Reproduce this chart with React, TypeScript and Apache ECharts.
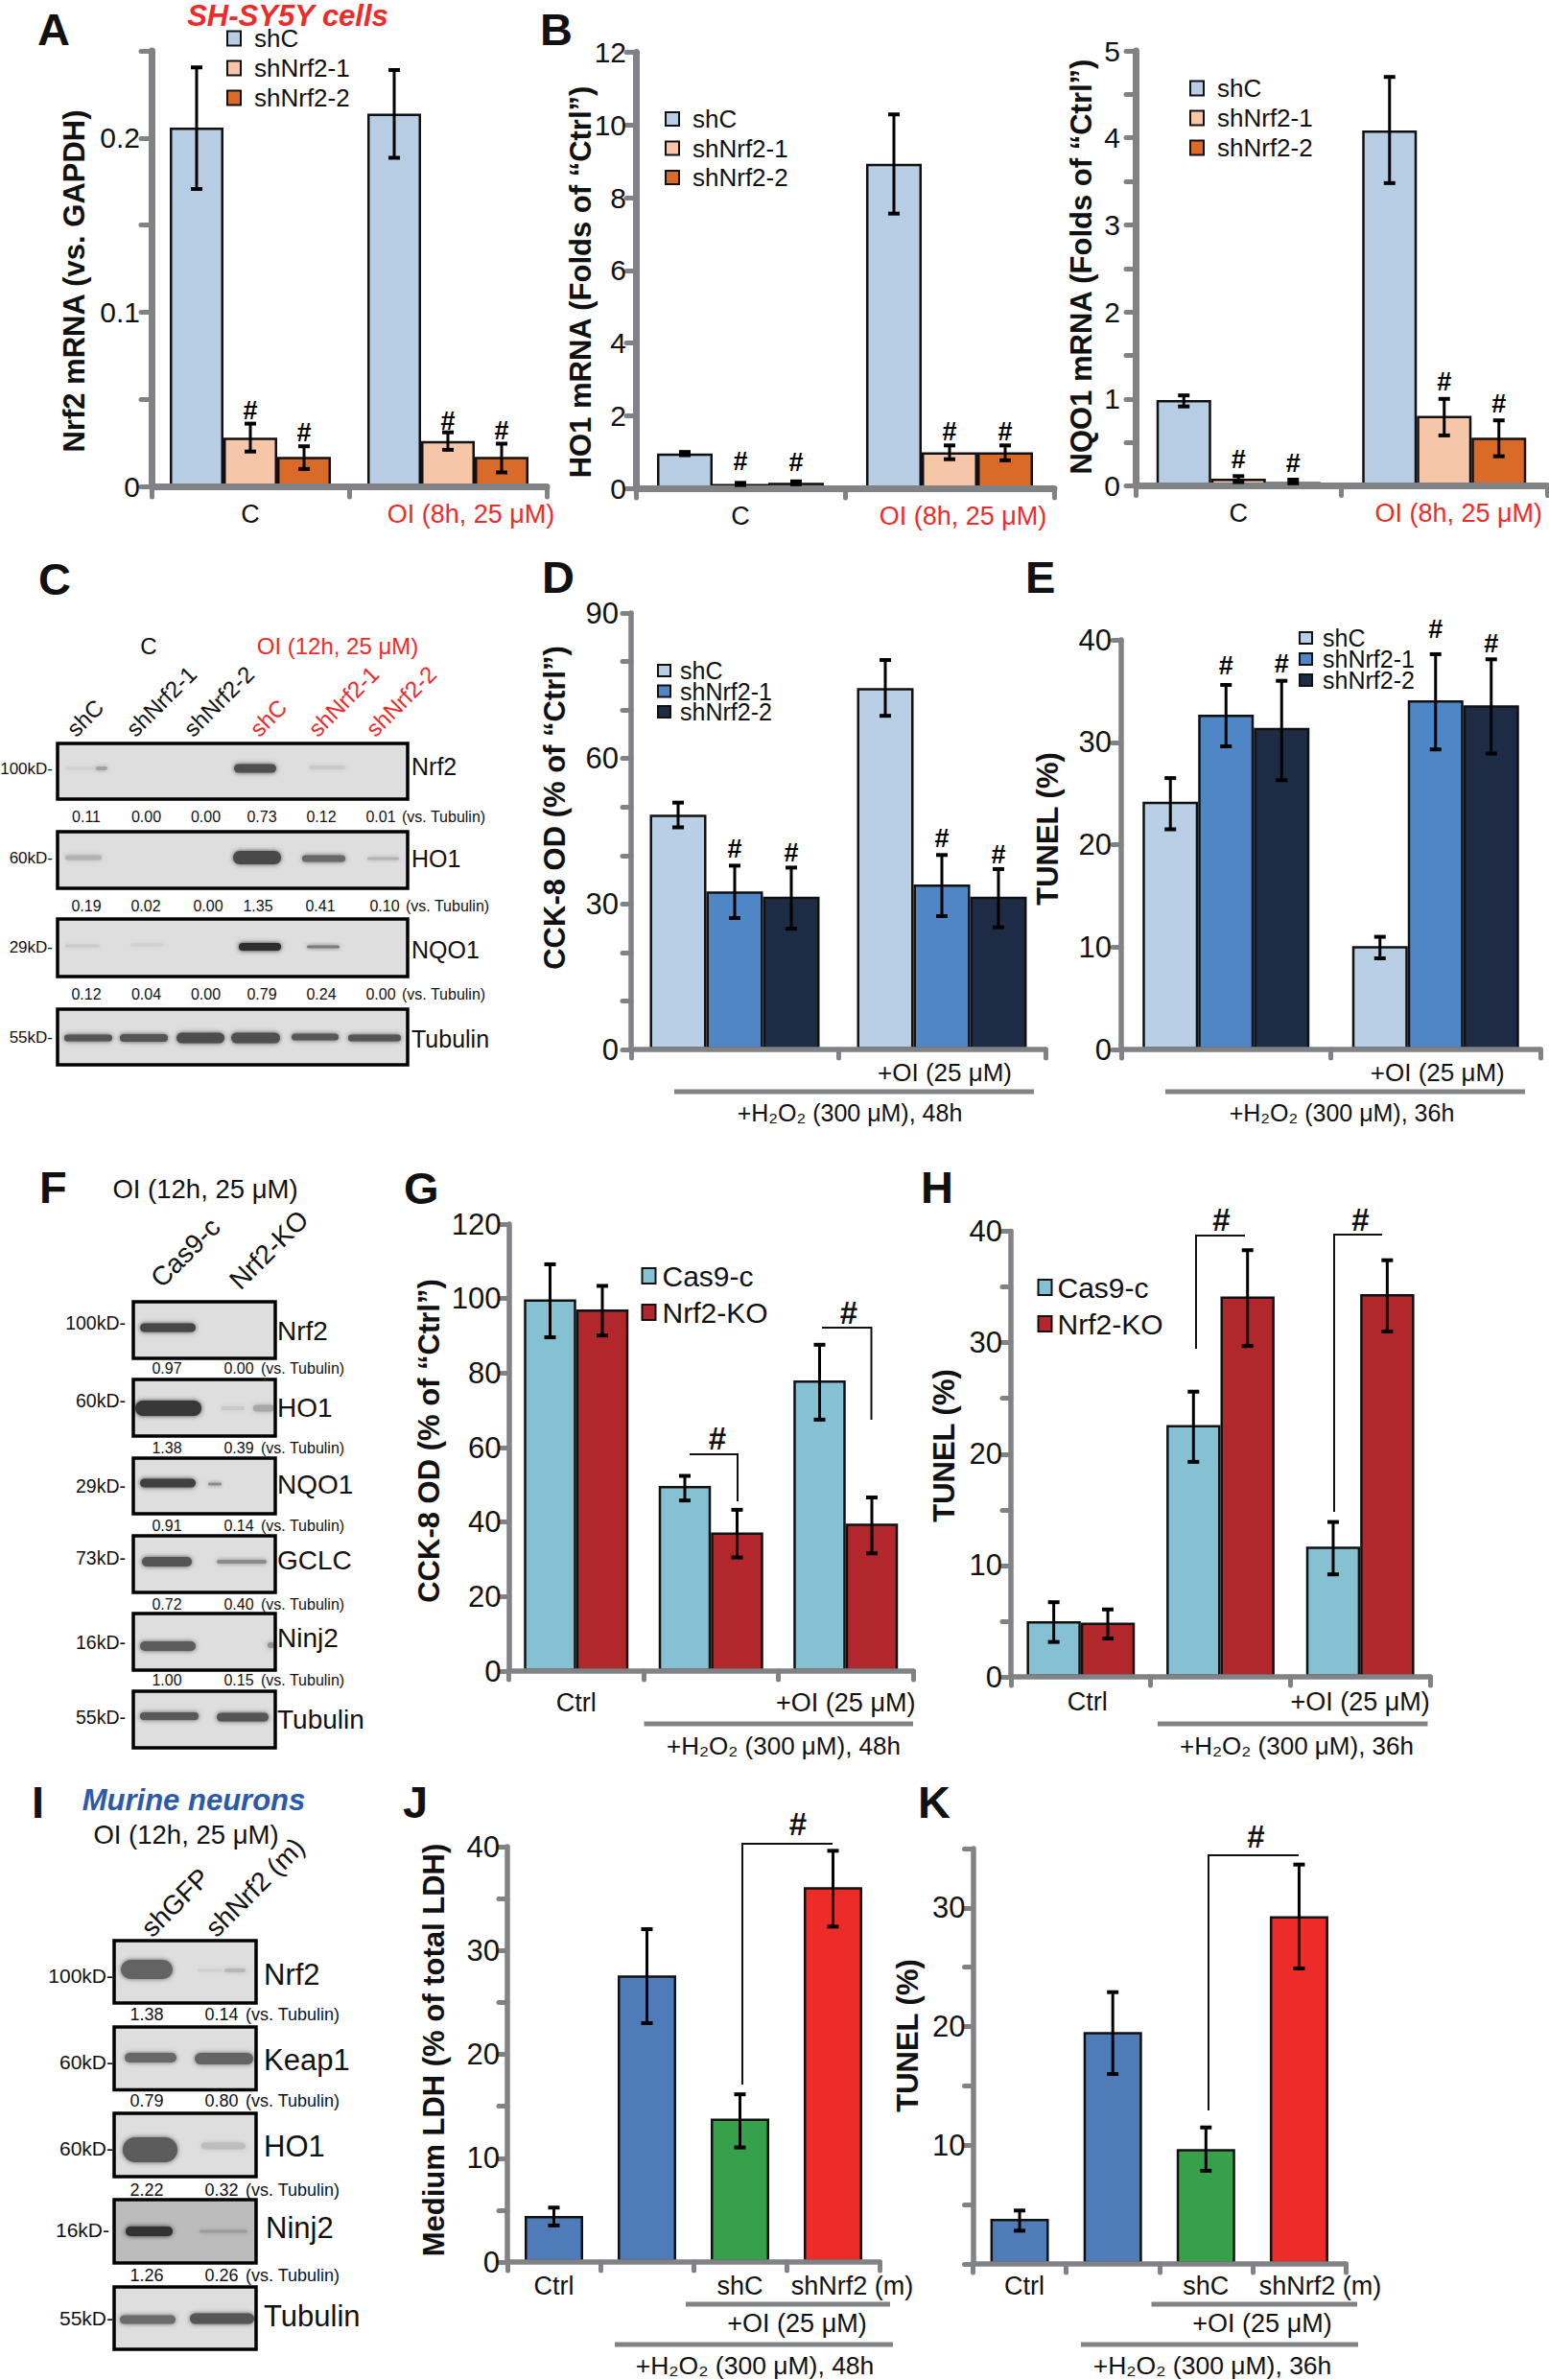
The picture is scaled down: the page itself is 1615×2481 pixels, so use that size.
import React, { useEffect, useRef } from "react";
import * as echarts from "echarts";

const FONT = "Liberation Sans";
const INK = "#111111";
const AXIS = "#808285";
const RED = "#ed2b2a";

// ---------- colours ----------
const cLight = "#b7cde4", cPeach = "#f5c7a8", cOrange = "#d96a27";
const cPale = "#b8cfe5", cMid = "#4f86c6", cNavy = "#1d2b44";
const cTeal = "#85c1d3", cCrim = "#b1272b";
const cBlue = "#4f7cb8", cGreen = "#37a04a", cRed = "#ed2c2a";

// ---------- data: categories, tick labels ----------
const catsA = ["C", "OI (8h, 25 μM)"];
const catsD = ["", "+OI (25 μM)"];
const catsG = ["Ctrl", "", "+OI (25 μM)"];
const catsJ = ["Ctrl", "", "shC", "shNrf2 (m)"];
const ticksA = ["0", "", "0.1", "", "0.2", ""];
const ticksB = ["0", "2", "4", "6", "8", "10", "12"];
const ticksN = ["0", "", "1", "", "2", "", "3", "", "4", "", "5"];
const ticksD = ["0", "", "", "30", "", "", "60", "", "", "90"];
const ticksE = ["0", "10", "20", "30", "40"];
const ticksG = ["0", "20", "40", "60", "80", "100", "120"];
const ticksH = ["0", "", "10", "", "20", "", "30", "", "40"];
const ticksJ = ["0", "", "10", "", "20", "", "30", "", "40"];
const ticksK = ["", "", "10", "", "20", "", "30", ""];

// ---------- data: bar values and [upper, lower] error ends ----------
const aShC = [0.206, 0.214], aN1 = [0.028, 0.026], aN2 = [0.017, 0.017];
const aShCErr = [[0.2405, 0.1707], [0.239, 0.1886]];
const aN1Err = [[0.036, 0.02], [0.031, 0.021]];
const aN2Err = [[0.023, 0.01], [0.0245, 0.008]];

const bShC = [0.96, 8.93], bN1 = [0.12, 0.99], bN2 = [0.15, 0.99];
const bShCErr = [[1.0, 0.91], [10.29, 7.56]];
const bN1Err = [[0.15, 0.09], [1.18, 0.8]];
const bN2Err = [[0.19, 0.11], [1.18, 0.77]];

const nShC = [0.986, 4.086], nN1 = [0.084, 0.805], nN2 = [0.044, 0.553];
const nShCErr = [[1.04, 0.913], [4.7, 3.48]];
const nN1Err = [[0.112, 0.044], [1.0, 0.58]];
const nN2Err = [[0.072, 0.03], [0.753, 0.34]];

const dShC = [48.4, 74.5], dN1 = [32.6, 34.0], dN2 = [31.5, 31.5];
const dShCErr = [[50.9, 45.8], [80.3, 68.8]];
const dN1Err = [[37.9, 27.1], [40.1, 27.5]];
const dN2Err = [[37.5, 24.9], [37.2, 25.2]];

const eShC = [24.2, 10.1], eN1 = [32.7, 34.1], eN2 = [31.4, 33.6];
const eShCErr = [[26.5, 21.5], [11.0, 8.9]];
const eN1Err = [[35.6, 29.6], [38.6, 29.3]];
const eN2Err = [[36.0, 26.3], [38.1, 28.9]];

const gCas = [99.8, 49.7, 78], gKo = [97.1, 37.2, 39.6];
const gCasErr = [[109.2, 89.6], [52.4, 45.8], [87.6, 67.5]];
const gKoErr = [[103.4, 90.1], [43.3, 30.5], [46.6, 31.6]];

const hCas = [5.0, 22.6, 11.7], hKo = [4.86, 34.15, 34.35];
const hCasErr = [[6.7, 3.13], [25.6, 19.3], [13.9, 9.2]];
const hKoErr = [[6.05, 3.44], [38.3, 29.7], [37.4, 31.0]];

const jVals = [4.43, 27.6, 13.8, 36.1];
const jErr = [[5.24, 3.52], [32.05, 23], [16.15, 11.03], [39.6, 32.3]];
const kVals = [3.8, 19.55, 9.68, 29.3];
const kErr = [[4.5, 2.8], [22.9, 16], [11.5, 7.85], [33.65, 24.9]];

// ---------- layout of the bar panels ----------
const L3 = ["shC", "shNrf2-1", "shNrf2-2"];
const L2 = ["Cas9-c", "Nrf2-KO"];
const panels: any[] = [
  { g: [158, 53, 412, 454], cats: catsA, pad: [0, 48], max: 0.25, step: 0.05, ticks: ticksA, fs: 30, ym: 12, aw: 7, tl: 11, bw: 56, redCat: 1, cf: 27, cm: 15,
    s: [[L3[0], aShC, aShCErr, cLight, [0, 0]], [L3[1], aN1, aN1Err, cPeach, [14, 12]], [L3[2], aN2, aN2Err, cOrange, [14, 14]]],
    leg: { x: 236, y: 40, sp: 31, iw: 14, ih: 15, f: 26, gap: 9, names: L3, colors: [cLight, cPeach, cOrange] } },
  { g: [663, 54.5, 436, 454.5], cats: catsA, pad: [0, 28], max: 12, step: 2, ticks: ticksB, fs: 30, ym: 10, aw: 7, tl: 10, bw: 58, redCat: 1, cf: 27, cm: 15,
    s: [[L3[0], bShC, bShCErr, cLight, [0, 0]], [L3[1], bN1, bN1Err, cPeach, [22, 14]], [L3[2], bN2, bN2Err, cOrange, [20, 14]]],
    leg: { x: 693, y: 124, sp: 30.5, iw: 14, ih: 14, f: 26, gap: 9, names: L3, colors: [cLight, cPeach, cOrange] } },
  { g: [1184, 53, 429, 453.5], cats: catsA, pad: [0, 30], max: 5, step: 0.5, ticks: ticksN, fs: 30, ym: 16, aw: 7, tl: 10, bw: 57, redCat: 1, cf: 27, cm: 15,
    s: [[L3[0], nShC, nShCErr, cLight, [0, 0]], [L3[1], nN1, nN1Err, cPeach, [17, 18]], [L3[2], nN2, nN2Err, cOrange, [17, 17]]],
    leg: { x: 1240, y: 92, sp: 31, iw: 14, ih: 15, f: 26, gap: 9, names: L3, colors: [cLight, cPeach, cOrange] } },
  { g: [658, 639, 432, 455], cats: catsD, pad: [0, 6], max: 90, step: 10, ticks: ticksD, fs: 31, ym: 13, aw: 5.5, tl: 9, bw: 59, cf: 26, cm: 11,
    s: [[L3[0], dShC, dShCErr, cPale, [0, 0]], [L3[1], dN1, dN1Err, cMid, [17, 17]], [L3[2], dN2, dN2Err, cNavy, [15, 15]]],
    leg: { x: 685, y: 699, sp: 21.5, iw: 13, ih: 12, f: 25, gap: 5, names: L3, colors: [cPale, cMid, cNavy] } },
  { g: [1169, 667, 437, 427], cats: catsD, pad: [0, 4], max: 40, step: 10, ticks: ticksE, fs: 31, ym: 10, aw: 5.5, tl: 9, bw: 58, cf: 26, cm: 11,
    s: [[L3[0], eShC, eShCErr, cPale, [0, 0]], [L3[1], eN1, eN1Err, cMid, [20, 26]], [L3[2], eN2, eN2Err, cNavy, [18, 16]]],
    leg: { x: 1354, y: 665, sp: 22, iw: 13, ih: 12, f: 25, gap: 6, names: L3, colors: [cPale, cMid, cNavy] } },
  { g: [530.5, 1276, 421.5, 466], cats: catsG, pad: [0, 0, 0], max: 120, step: 20, ticks: ticksG, fs: 31, ym: 8, aw: 5.5, tl: 9, bw: 54.5, cf: 27, cm: 19,
    s: [[L2[0], gCas, gCasErr, cTeal], [L2[1], gKo, gKoErr, cCrim]],
    leg: { x: 668.5, y: 1330, sp: 38, iw: 14, ih: 16, f: 30, gap: 2, names: L2, colors: [cTeal, cCrim] } },
  { g: [1054, 1283.5, 437, 464.5], cats: catsG, pad: [14, 0, 0], max: 40, step: 5, ticks: ticksH, fs: 31, ym: 9, aw: 5.5, tl: 9, bw: 56.4, cf: 27, cm: 12,
    s: [[L2[0], hCas, hCasErr, cTeal], [L2[1], hKo, hKoErr, cCrim]],
    leg: { x: 1081.5, y: 1342, sp: 38, iw: 14, ih: 16, f: 30, gap: 1, names: L2, colors: [cTeal, cCrim] } },
  { g: [529, 1925, 388, 433], cats: catsJ, pad: [0, 0, 0, 40], max: 40, step: 5, ticks: ticksJ, fs: 31, ym: 8, aw: 5.5, tl: 9, bw: 61, cf: 27, cm: 11,
    s: [["LDH", jVals, jErr, [cBlue, cBlue, cGreen, cRed]]] },
  { g: [1014.5, 1927, 388.5, 433], cats: catsJ, pad: [10, 0, 0, 44], max: 35, step: 5, ticks: ticksK, fs: 31, ym: 8, aw: 5.5, tl: 9, bw: 61, cf: 27, cm: 9,
    s: [["TUNEL", kVals, kErr, [cBlue, cBlue, cGreen, cRed]]] },
];

// ---------- western blots (band = x0, x1, yCentre, height, darkness) ----------
const blots: any[] = [
  { x: 60, w: 365, rows: [
    { y: 775, h: 58, b: [[68, 104, 801, 3, 0.06], [100, 112, 801, 4, 0.3], [244, 288, 801, 9, 0.72], [322, 360, 800, 4, 0.1]] },
    { y: 867, h: 59, b: [[68, 106, 894, 5, 0.22], [243, 293, 894, 14, 0.76], [315, 360, 895, 7, 0.6], [383, 416, 895, 3, 0.22]] },
    { y: 958, h: 60, b: [[68, 104, 986, 3, 0.1], [136, 170, 985, 3, 0.07], [249, 293, 987, 8, 0.9], [320, 354, 987, 3, 0.5]] },
    { y: 1052, h: 58, b: [[67, 117, 1082, 7, 0.7], [125, 175, 1082, 8, 0.7], [184, 234, 1082, 11, 0.73], [241, 292, 1082, 11, 0.72], [304, 353, 1081, 7, 0.68], [363, 418, 1082, 7, 0.7]] },
  ] },
  { x: 139, w: 148, rows: [
    { y: 1357, h: 59, b: [[146, 204, 1384, 9, 0.78]] },
    { y: 1438, h: 59, b: [[141, 210, 1468, 16, 0.85], [230, 255, 1468, 4, 0.1], [264, 286, 1468, 7, 0.28]] },
    { y: 1520, h: 58, b: [[146, 204, 1546, 9, 0.8], [217, 231, 1547, 3, 0.42]] },
    { y: 1601, h: 59, b: [[148, 200, 1628, 10, 0.7], [226, 278, 1628, 4, 0.42]] },
    { y: 1682, h: 59, b: [[146, 204, 1716, 10, 0.66], [279, 286, 1715, 6, 0.38]] },
    { y: 1763, h: 59, b: [[146, 207, 1789, 8, 0.68], [226, 280, 1790, 9, 0.7]] },
  ] },
  { x: 119, w: 148, rows: [
    { y: 2023, h: 65, b: [[126, 180, 2053, 20, 0.62], [206, 232, 2054, 3, 0.07], [234, 256, 2054, 4, 0.2]] },
    { y: 2113, h: 65.5, b: [[130, 184, 2145, 10, 0.6], [203, 264, 2146, 12, 0.62]] },
    { y: 2203, h: 66, b: [[128, 185, 2241, 26, 0.66], [210, 256, 2237, 7, 0.16]] },
    { y: 2293, h: 66, bg: "#bcbcbc", b: [[131, 180, 2326, 10, 0.85], [208, 258, 2326, 3, 0.2]] },
    { y: 2384, h: 65, b: [[125, 183, 2418, 9, 0.58], [198, 265, 2417, 11, 0.7]] },
  ] },
];

// ---------- helpers ----------
const txt = (text: string, x: number, y: number, o: any = {}) => ({
  type: "text", x, y, rotation: o.rot || 0, silent: true, z: 20,
  style: {
    text, fontSize: o.f || 25, fontFamily: FONT, fontWeight: o.w || "normal", fontStyle: o.i ? "italic" : "normal",
    fill: o.c || INK, align: o.a || "center", textAlign: o.a || "center",
    verticalAlign: o.v || "middle", textVerticalAlign: o.v || "middle",
  },
});
const bar = (x1: number, x2: number, y: number) => ({
  type: "line", z: 20, silent: true, shape: { x1, y1: y, x2, y2: y }, style: { stroke: AXIS, lineWidth: 5 },
});
const bracket = (pts: number[][]) => ({
  type: "polyline", z: 20, silent: true, shape: { points: pts }, style: { stroke: INK, lineWidth: 2, fill: "none" },
});
const Q = Math.PI / 4;
const yTitle = (s: string, x: number, y: number) => txt(s, x, y, { rot: Math.PI / 2, f: 31, w: "bold" });
const letter = (s: string, x: number, y: number) => txt(s, x, y, { f: 47, w: "bold", a: "left" });
const slant = (s: string, x: number, y: number, f: number, c?: string) =>
  txt(s, x, y, { rot: Q, f, a: "left", v: "bottom", c });

const H48 = "+H₂O₂ (300 μM), 48h";
const H36 = "+H₂O₂ (300 μM), 36h";
const OI25 = "+OI (25 μM)";
const OI12 = "OI (12h, 25 μM)";
const VS = "(vs. Tubulin)";

function blotGraphics() {
  const out: any[] = [];
  blots.forEach((p) => p.rows.forEach((r: any) => {
    const base = r.bg ? 188 : 222;
    out.push({ type: "rect", z: 10, silent: true, shape: { x: p.x, y: r.y, width: p.w, height: r.h }, style: { fill: r.bg || "#dedede" } });
    r.b.forEach(([x0, x1, yc, h, a]: number[]) => {
      const v = Math.round(base - a * (base - 25));
      const col = `rgb(${v},${v},${v})`;
      out.push({
        type: "rect", z: 11, silent: true,
        shape: { x: x0, y: yc - h / 2, width: x1 - x0, height: h, r: h / 2 },
        style: { fill: col, shadowBlur: 5, shadowColor: col },
      });
    });
    out.push({ type: "rect", z: 12, silent: true, shape: { x: p.x, y: r.y, width: p.w, height: r.h }, style: { fill: "none", stroke: "#000", lineWidth: 3.5 } });
  }));
  return out;
}

function rowVals(vals: string[], xs: number[], y: number, f: number, vsX: number) {
  return [...vals.map((v, i) => txt(v, xs[i], y, { f })), txt(VS, vsX, y, { f, a: "left" })];
}

function allGraphics() {
  const g: any[] = [...blotGraphics()];
  // panel letters
  ([["A", 39, 30], ["B", 563, 30], ["C", 40, 603], ["D", 565, 601], ["E", 1069, 601], ["F", 41, 1237], ["G", 421, 1238],
    ["H", 960, 1237], ["I", 33, 1878], ["J", 420, 1878], ["K", 957, 1878]] as any[]).forEach(([s, x, y]) => g.push(letter(s, x, y)));
  // y titles
  g.push(yTitle("Nrf2 mRNA (vs. GAPDH)", 77, 293), yTitle("HO1 mRNA (Folds of “Ctrl”)", 605, 294), yTitle("NQO1 mRNA (Folds of “Ctrl”)", 1127, 278),
    yTitle("CCK-8 OD (% of “Ctrl”)", 578, 842), yTitle("TUNEL (%)", 1092, 864), yTitle("CCK-8 OD (% of “Ctrl”)", 447, 1502),
    yTitle("TUNEL (%)", 984, 1507), yTitle("Medium LDH (% of total LDH)", 452, 2137), yTitle("TUNEL (%)", 946, 2122));
  g.push(txt("SH-SY5Y cells", 300, 16, { f: 31, w: "bold", i: true, c: RED }));

  // treatment labels
  g.push(bar(703, 1078, 1138), txt(H48, 886, 1160, { f: 25 }));
  g.push(bar(1215, 1590, 1138), txt(H36, 1399, 1160, { f: 25 }));
  g.push(bar(671.5, 952, 1797), txt(H48, 817, 1820, { f: 26 }));
  g.push(bar(1207, 1488.5, 1797), txt(H36, 1352, 1820, { f: 26 }));
  g.push(bar(715, 928, 2402), txt(OI25, 831, 2422, { f: 27 }), bar(641, 931, 2444), txt(H48, 787, 2466, { f: 26.5 }));
  g.push(bar(1200.5, 1415, 2402), txt(OI25, 1316, 2422, { f: 27 }), bar(1127, 1416, 2444), txt(H36, 1264, 2466, { f: 26.5 }));

  // brackets and hashes
  const hash = (x: number, y: number) => txt("#", x, y, { f: 33, w: "bold" });
  g.push(bracket([[719, 1516], [769, 1516], [769, 1565]]), hash(748, 1499));
  g.push(bracket([[857, 1384], [908.5, 1384], [908.5, 1480]]), hash(885, 1368));
  g.push(bracket([[1247, 1406], [1247, 1288], [1298, 1288]]), hash(1273.5, 1271));
  g.push(bracket([[1391, 1576], [1391, 1287], [1441, 1287]]), hash(1418.5, 1271));
  g.push(bracket([[774, 2173], [774, 1922], [868, 1922]]), hash(832, 1901));
  g.push(bracket([[1260, 2200], [1260, 1934], [1354, 1934]]), hash(1309.5, 1914));

  // blot C text
  g.push(txt("C", 155, 673, { f: 24 }), txt(OI12, 352, 673, { f: 24, c: RED }));
  slantC.forEach(([s, x, c]: any) => g.push(slant(s, x + 11, 772, 24, c)));
  kdC.forEach(([s, y]: any) => g.push(txt(s, 55, y, { f: 17, a: "right" })));
  ["Nrf2", "HO1", "NQO1", "Tubulin"].forEach((s, i) => g.push(txt(s, 429, [799, 895, 990, 1083][i], { f: 25, a: "left" })));
  g.push(...rowVals(valsC[0], [90, 152.5, 214.5, 273, 335, 397], 851, 16, 419));
  g.push(...rowVals(valsC[1], [90, 152, 217, 269, 334, 401], 944, 16, 423));
  g.push(...rowVals(valsC[2], [90, 152.5, 214.5, 273, 335, 397], 1036, 16, 419));

  // blot F text
  g.push(txt(OI12, 214, 1239, { f: 27.5 }));
  g.push(slant("Cas9-c", 172, 1347, 28), slant("Nrf2-KO", 254, 1349, 28));
  kdF.forEach(([s, y]: any) => g.push(txt(s, 131, y, { f: 19.5, a: "right" })));
  namesF.forEach(([s, y]: any) => g.push(txt(s, 289, y, { f: 28, a: "left" })));
  valsF.forEach(([a, b, y]: any) => g.push(...rowVals([a, b], [174, 249], y, 16, 272)));

  // blot I text
  g.push(txt("Murine neurons", 202, 1876, { f: 31, w: "bold", i: true, c: "#2b5aa8" }), txt(OI12, 194, 1912, { f: 27.5 }));
  g.push(slant("shGFP", 162, 2024, 28), slant("shNrf2 (m)", 229, 2024, 28));
  kdI.forEach(([s, x, y]: any) => g.push(txt(s, x, y, { f: 21, a: "right" })));
  namesI.forEach(([s, x, y]: any) => g.push(txt(s, x, y, { f: 31, a: "left" })));
  valsI.forEach(([a, b, y]: any) => g.push(...rowVals([a, b], [153, 231], y, 18, 256)));
  return g;
}

// ---------- blot labels and densitometry values ----------
const slantC = [["shC", 71], ["shNrf2-1", 133], ["shNrf2-2", 193], ["shC", 262, RED], ["shNrf2-1", 323, RED], ["shNrf2-2", 383, RED]];
const kdC = [["100kD-", 801], ["60kD-", 894], ["29kD-", 987], ["55kD-", 1081]];
const valsC = [
  ["0.11", "0.00", "0.00", "0.73", "0.12", "0.01"],
  ["0.19", "0.02", "0.00", "1.35", "0.41", "0.10"],
  ["0.12", "0.04", "0.00", "0.79", "0.24", "0.00"],
];
const kdF = [["100kD-", 1379], ["60kD-", 1460], ["29kD-", 1549], ["73kD-", 1624], ["16kD-", 1712], ["55kD-", 1790]];
const namesF = [["Nrf2", 1387], ["HO1", 1467], ["NQO1", 1547], ["GCLC", 1626], ["Ninj2", 1707], ["Tubulin", 1792]];
const valsF = [["0.97", "0.00", 1426], ["1.38", "0.39", 1509], ["0.91", "0.14", 1590], ["0.72", "0.40", 1672], ["1.00", "0.15", 1751]];
const kdI = [["100kD-", 118, 2059], ["60kD-", 118, 2149], ["60kD-", 118, 2239], ["16kD-", 114, 2324], ["55kD-", 118, 2416]];
const namesI = [["Nrf2", 275, 2058], ["Keap1", 275, 2147], ["HO1", 275, 2237], ["Ninj2", 277, 2322], ["Tubulin", 275, 2414]];
const valsI = [["1.38", "0.14", 2100], ["0.79", "0.80", 2190], ["2.22", "0.32", 2283], ["1.26", "0.26", 2372]];

// ---------- option ----------
function buildOption() {
  const grid: any[] = [], xAxis: any[] = [], yAxis: any[] = [], series: any[] = [], legend: any[] = [];
  panels.forEach((p, gi) => {
    grid.push({ left: p.g[0], top: p.g[1], width: p.g[2], height: p.g[3] });
    xAxis.push({
      type: "category", gridIndex: gi, z: 5,
      data: p.cats.map((c: string, i: number) => ({
        value: c,
        textStyle: { color: p.redCat === i ? RED : INK, padding: [0, 0, 0, p.pad[i] || 0] },
      })),
      axisLine: { show: true, lineStyle: { color: AXIS, width: p.aw, cap: "round" } },
      axisTick: { show: true, length: p.tl, lineStyle: { color: AXIS, width: 5, cap: "round" } },
      axisLabel: { interval: 0, margin: p.cm, fontSize: p.cf, fontFamily: FONT, color: INK },
      splitLine: { show: false },
    });
    yAxis.push({
      type: "value", gridIndex: gi, min: 0, max: p.max, interval: p.step, z: 5,
      axisLine: { show: true, lineStyle: { color: AXIS, width: p.aw, cap: "round" } },
      axisTick: { show: true, length: p.tl, lineStyle: { color: AXIS, width: 5, cap: "round" } },
      axisLabel: { margin: p.ym, fontSize: p.fs, fontFamily: FONT, color: INK, formatter: (_: number, i: number) => p.ticks[i] ?? "" },
      splitLine: { show: false },
    });
    const n = p.s.length;
    p.s.forEach((s: any[], si: number) => {
      const [name, vals, errs, color, gaps] = s;
      series.push({
        type: "bar", name, xAxisIndex: gi, yAxisIndex: gi, barWidth: p.bw, barGap: "0%", z: 2,
        data: vals.map((v: number, i: number) => ({ value: v, itemStyle: { color: Array.isArray(color) ? color[i] : color } })),
        itemStyle: { borderColor: "#111", borderWidth: 2.5 },
      });
      const off = (si - (n - 1) / 2) * p.bw;
      series.push({
        type: "custom", xAxisIndex: gi, yAxisIndex: gi, z: 6, silent: true, clip: false,
        encode: { x: 0, y: [1, 2] },
        data: errs.map((e: number[], i: number) => [i, e[0], e[1]]),
        renderItem: (_: any, api: any) => {
          const i = api.value(0);
          const top = api.coord([i, api.value(1)]);
          const bot = api.coord([i, api.value(2)]);
          const x = top[0] + off;
          const ln = (x1: number, y1: number, x2: number, y2: number, w: number) => ({
            type: "line", shape: { x1, y1, x2, y2 }, style: { stroke: "#000", lineWidth: w },
          });
          const kids: any[] = [ln(x, top[1], x, bot[1], 3), ln(x - 6, top[1], x + 6, top[1], 4), ln(x - 6, bot[1], x + 6, bot[1], 4)];
          const gap = gaps ? gaps[i] : 0;
          if (gap) kids.push({ type: "text", style: { text: "#", x, y: top[1] - gap, fontSize: 27, fontWeight: "bold", fontFamily: FONT, fill: "#000", align: "center", textAlign: "center", verticalAlign: "middle", textVerticalAlign: "middle" } });
          return { type: "group", children: kids };
        },
      });
    });
    if (p.leg) {
      const l = p.leg;
      const h = Math.max(l.ih, l.f);
      legend.push({
        left: l.x, top: l.y - h / 2, orient: "vertical", padding: 0, selectedMode: false,
        itemWidth: l.iw, itemHeight: l.ih, itemGap: l.sp - h,
        textStyle: { fontSize: l.f, fontFamily: FONT, color: INK, padding: [0, 0, 0, l.gap] },
        data: l.names.map((nm: string, i: number) => ({ name: nm, icon: "rect", itemStyle: { color: l.colors[i], borderColor: "#111", borderWidth: 2 } })),
      });
    }
  });
  return { animation: false, backgroundColor: "#fff", grid, xAxis, yAxis, series, legend, graphic: { elements: allGraphics() } };
}

export default function App() {
  const ref = useRef<HTMLDivElement>(null);
  useEffect(() => {
    document.body.style.margin = "0";
    const chart = echarts.init(ref.current as HTMLDivElement, undefined, { renderer: "svg" });
    chart.setOption(buildOption());
    return () => chart.dispose();
  }, []);
  return <div ref={ref} style={{ width: 1615, height: 2481 }} />;
}
